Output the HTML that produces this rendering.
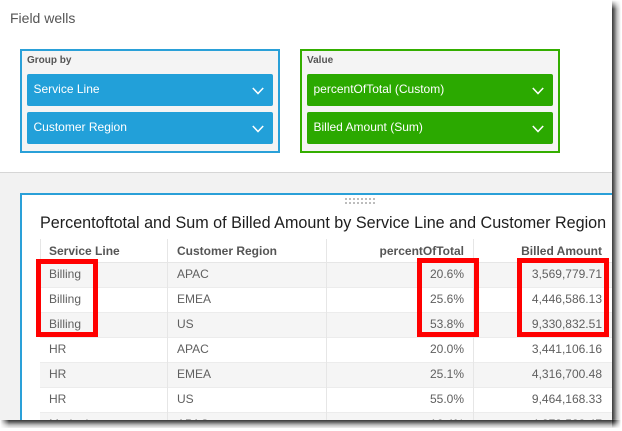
<!DOCTYPE html>
<html>
<head>
<meta charset="utf-8">
<style>
  html,body{margin:0;padding:0;background:#fff;}
  body{width:622px;height:431px;position:relative;overflow:hidden;font-family:"Liberation Sans",Arial,sans-serif;}
  .a{position:absolute;}
  #screen{position:absolute;left:0;top:0;width:612px;height:420px;overflow:hidden;background:#fff;}
  .fw{left:10px;top:11px;font-size:14px;line-height:14px;color:#555;white-space:nowrap;}
  .box{box-sizing:border-box;border:2px solid;background:#f4f4f4;}
  .lbl{font-size:10px;line-height:10px;font-weight:bold;color:#555;white-space:nowrap;}
  .pill{box-sizing:border-box;border-radius:2px;color:#fff;font-size:12px;line-height:30px;padding-left:6.5px;white-space:nowrap;}
  .blue{background:#22a0d9;}
  .green{background:#2ba900;}
  .chev{width:12px;height:8px;}
  .sep{left:0;top:172px;width:612px;height:1px;background:#d6d6d6;}
  .gray{left:0;top:173px;width:612px;height:247px;background:#f2f2f2;}
  .panel{left:20px;top:193px;width:592px;height:227px;box-sizing:border-box;border-left:2px solid #2aa0d8;border-top:2px solid #2aa0d8;background:#fff;}
  .title{left:40px;top:214.5px;font-size:16.15px;line-height:16px;color:#1e1e1e;white-space:nowrap;}
  .row{left:40px;width:572px;height:25px;}
  .cell{font-size:12px;line-height:25px;color:#5f5f5f;white-space:nowrap;}
  .hcell{font-size:12px;line-height:25px;color:#555;font-weight:bold;white-space:nowrap;}
  .vl{width:1px;background:#e6e6e6;top:239px;height:181px;}
  .red{box-sizing:border-box;border:5px solid #ff0000;}
  .rs{left:612px;top:0;width:9px;height:428px;background:linear-gradient(to right,rgba(0,0,0,.78) 0,rgba(0,0,0,.6) 2px,rgba(0,0,0,.25) 5px,rgba(0,0,0,0) 9px);
      -webkit-mask-image:linear-gradient(to bottom,transparent 0,#000 9px,#000 419px,transparent 428px);mask-image:linear-gradient(to bottom,transparent 0,#000 9px,#000 419px,transparent 428px);}
  .bs{left:0;top:420px;width:621px;height:9px;background:linear-gradient(to bottom,rgba(0,0,0,.78) 0,rgba(0,0,0,.6) 2px,rgba(0,0,0,.25) 5px,rgba(0,0,0,0) 9px);
      -webkit-mask-image:linear-gradient(to right,transparent 0,#000 9px,#000 611px,transparent 621px);mask-image:linear-gradient(to right,transparent 0,#000 9px,#000 611px,transparent 621px);}
</style>
</head>
<body>
<div id="screen">
  <div class="a fw">Field wells</div>

  <!-- Group by box -->
  <div class="a box" style="left:20px;top:49px;width:260px;height:104px;border-color:#2aa0d8;"></div>
  <div class="a lbl" style="left:27px;top:55.5px;">Group by</div>
  <div class="a pill blue" style="left:27px;top:74px;width:246px;height:32px;">Service Line</div>
  <div class="a pill blue" style="left:27px;top:112px;width:246px;height:32px;">Customer Region</div>
  <svg class="a chev" style="left:252px;top:87px;" viewBox="0 0 12 8"><polyline points="0.8,1 6,6.5 11.2,1" fill="none" stroke="#fff" stroke-width="1.5"/></svg>
  <svg class="a chev" style="left:252px;top:125px;" viewBox="0 0 12 8"><polyline points="0.8,1 6,6.5 11.2,1" fill="none" stroke="#fff" stroke-width="1.5"/></svg>

  <!-- Value box -->
  <div class="a box" style="left:300px;top:49px;width:260px;height:104px;border-color:#34ae00;"></div>
  <div class="a lbl" style="left:307px;top:55.5px;">Value</div>
  <div class="a pill green" style="left:307px;top:74px;width:246px;height:32px;">percentOfTotal (Custom)</div>
  <div class="a pill green" style="left:307px;top:112px;width:246px;height:32px;">Billed Amount (Sum)</div>
  <svg class="a chev" style="left:532px;top:87px;" viewBox="0 0 12 8"><polyline points="0.8,1 6,6.5 11.2,1" fill="none" stroke="#fff" stroke-width="1.5"/></svg>
  <svg class="a chev" style="left:532px;top:125px;" viewBox="0 0 12 8"><polyline points="0.8,1 6,6.5 11.2,1" fill="none" stroke="#fff" stroke-width="1.5"/></svg>

  <div class="a sep"></div>
  <div class="a gray"></div>
  <div class="a panel"></div>

  <!-- drag handle -->
  <svg class="a" style="left:345px;top:198px;" width="31" height="8" viewBox="0 0 31 8">
    <g fill="#bdbdbd">
      <rect x="0" y="0" width="2" height="2"/><rect x="4" y="0" width="2" height="2"/><rect x="8" y="0" width="2" height="2"/><rect x="12" y="0" width="2" height="2"/><rect x="16" y="0" width="2" height="2"/><rect x="20" y="0" width="2" height="2"/><rect x="24" y="0" width="2" height="2"/><rect x="28" y="0" width="2" height="2"/>
      <rect x="0" y="4" width="2" height="2"/><rect x="4" y="4" width="2" height="2"/><rect x="8" y="4" width="2" height="2"/><rect x="12" y="4" width="2" height="2"/><rect x="16" y="4" width="2" height="2"/><rect x="20" y="4" width="2" height="2"/><rect x="24" y="4" width="2" height="2"/><rect x="28" y="4" width="2" height="2"/>
    </g>
  </svg>

  <div class="a title">Percentoftotal and Sum of Billed Amount by Service Line and Customer Region</div>

  <!-- rows backgrounds -->
  <div class="a row" style="top:262px;background:#f5f5f5;border-top:1px solid #e6e6e6;box-sizing:border-box;"></div>
  <div class="a row" style="top:287px;background:#fff;border-top:1px solid #ececec;box-sizing:border-box;"></div>
  <div class="a row" style="top:312px;background:#f5f5f5;border-top:1px solid #ececec;box-sizing:border-box;"></div>
  <div class="a row" style="top:337px;background:#fff;border-top:1px solid #ececec;box-sizing:border-box;"></div>
  <div class="a row" style="top:362px;background:#f5f5f5;border-top:1px solid #ececec;box-sizing:border-box;"></div>
  <div class="a row" style="top:387px;background:#fff;border-top:1px solid #ececec;box-sizing:border-box;"></div>
  <div class="a row" style="top:412px;height:8px;background:#f5f5f5;border-top:1px solid #ececec;box-sizing:border-box;"></div>

  <!-- column lines -->
  <div class="a vl" style="left:40px;height:23px;"></div>
  <div class="a vl" style="left:167px;"></div>
  <div class="a vl" style="left:326px;"></div>
  <div class="a vl" style="left:473px;"></div>

  <!-- header -->
  <div class="a hcell" style="left:49px;top:239px;">Service Line</div>
  <div class="a hcell" style="left:177px;top:239px;">Customer Region</div>
  <div class="a hcell" style="right:148px;top:239px;">percentOfTotal</div>
  <div class="a hcell" style="right:10px;top:239px;">Billed Amount</div>

  <!-- data -->
  <div class="a cell" style="left:49px;top:262px;">Billing</div>
  <div class="a cell" style="left:177px;top:262px;">APAC</div>
  <div class="a cell" style="right:148px;top:262px;">20.6%</div>
  <div class="a cell" style="right:10px;top:262px;">3,569,779.71</div>

  <div class="a cell" style="left:49px;top:287px;">Billing</div>
  <div class="a cell" style="left:177px;top:287px;">EMEA</div>
  <div class="a cell" style="right:148px;top:287px;">25.6%</div>
  <div class="a cell" style="right:10px;top:287px;">4,446,586.13</div>

  <div class="a cell" style="left:49px;top:312px;">Billing</div>
  <div class="a cell" style="left:177px;top:312px;">US</div>
  <div class="a cell" style="right:148px;top:312px;">53.8%</div>
  <div class="a cell" style="right:10px;top:312px;">9,330,832.51</div>

  <div class="a cell" style="left:49px;top:337px;">HR</div>
  <div class="a cell" style="left:177px;top:337px;">APAC</div>
  <div class="a cell" style="right:148px;top:337px;">20.0%</div>
  <div class="a cell" style="right:10px;top:337px;">3,441,106.16</div>

  <div class="a cell" style="left:49px;top:362px;">HR</div>
  <div class="a cell" style="left:177px;top:362px;">EMEA</div>
  <div class="a cell" style="right:148px;top:362px;">25.1%</div>
  <div class="a cell" style="right:10px;top:362px;">4,316,700.48</div>

  <div class="a cell" style="left:49px;top:387px;">HR</div>
  <div class="a cell" style="left:177px;top:387px;">US</div>
  <div class="a cell" style="right:148px;top:387px;">55.0%</div>
  <div class="a cell" style="right:10px;top:387px;">9,464,168.33</div>

  <div class="a cell" style="left:49px;top:412px;line-height:25px;height:8px;overflow:hidden;">Marketing</div>
  <div class="a cell" style="left:177px;top:412px;height:8px;overflow:hidden;">APAC</div>
  <div class="a cell" style="right:148px;top:412px;height:8px;overflow:hidden;">16.4%</div>
  <div class="a cell" style="right:10px;top:412px;height:8px;overflow:hidden;">4,273,533.47</div>

  <!-- red highlight boxes -->
  <div class="a red" style="left:36px;top:259px;width:62px;height:78px;"></div>
  <div class="a red" style="left:417px;top:258px;width:62px;height:79px;"></div>
  <div class="a red" style="left:517px;top:258px;width:92px;height:79px;"></div>
</div>

<div class="a rs"></div>
<div class="a bs" style="height:8px;"></div>
</body>
</html>
